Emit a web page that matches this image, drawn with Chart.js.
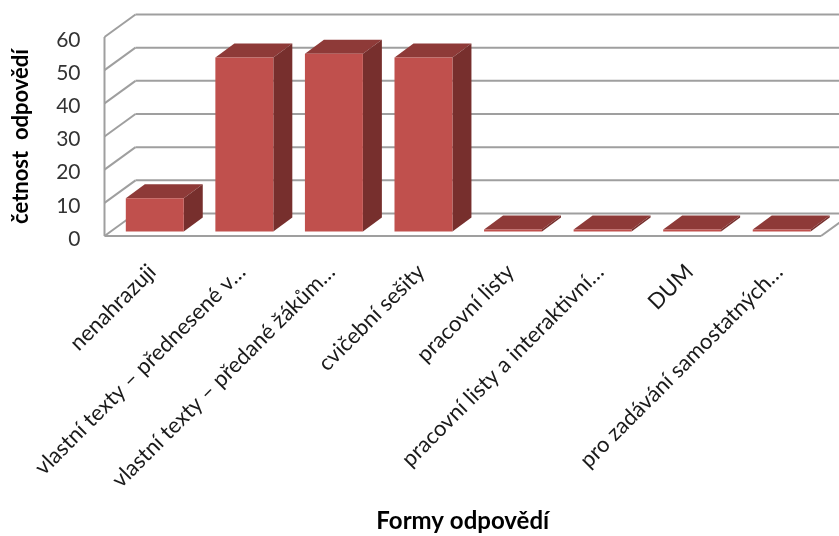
<!DOCTYPE html>
<html lang="cs">
<head>
<meta charset="utf-8">
<title>Formy odpovědí</title>
<script src="https://cdn.jsdelivr.net/npm/chart.js@4"></script>
<style>
  html, body { margin: 0; padding: 0; background: #fff; }
  #wrap { position: relative; width: 839px; height: 536px; overflow: hidden; }
  canvas { display: block; }
</style>
</head>
<body>
<div id="wrap"><canvas id="chart-formy" width="839" height="536"></canvas></div>
<script>
const CATEGORIES = [
  'nenahrazuji',
  'vlastní texty – přednesené v…',
  'vlastní texty – předané žákům…',
  'cvičební sešity',
  'pracovní listy',
  'pracovní listy a interaktivní…',
  'DUM',
  'pro zadávání samostatných…',
];
const COUNTS = [10, 52.5, 53.6, 52.5, 0, 0, 0, 0];
const Y_TICKS = [0, 10, 20, 30, 40, 50, 60];

const COLOR_FRONT = '#C0504D';
const COLOR_TOP   = '#8E3A38';
const COLOR_SIDE  = '#772F2D';
const COLOR_WALL  = '#9F9F9F';

// Depth of the fake 3D box, in px
const WALL_DX = 31,  WALL_DY = -22.5;
const BAR_IN_X = 5.5, BAR_IN_Y = -4.5;   // bars sit slightly behind the front plane
const BAR_DX = 19,   BAR_DY = -14;

function line(ctx, x1, y1, x2, y2) {
  ctx.beginPath();
  ctx.moveTo(x1, y1);
  ctx.lineTo(x2, y2);
  ctx.stroke();
}

function poly(ctx, pts, fill) {
  ctx.beginPath();
  pts.forEach(([x, y], i) => i ? ctx.lineTo(x, y) : ctx.moveTo(x, y));
  ctx.closePath();
  ctx.fillStyle = fill;
  ctx.fill();
}

const box3d = {
  id: 'box3d',

  // Back wall, side wall and floor
  beforeDatasetsDraw(chart) {
    const { ctx, chartArea, scales: { y } } = chart;
    const { left, right, bottom } = chartArea;
    ctx.save();
    ctx.strokeStyle = COLOR_WALL;
    ctx.lineWidth = 2;
    Y_TICKS.forEach(v => {
      const py = y.getPixelForValue(v);
      line(ctx, left, py, left + WALL_DX, py + WALL_DY);
      line(ctx, left + WALL_DX, py + WALL_DY, right + WALL_DX, py + WALL_DY);
    });
    line(ctx, left, y.getPixelForValue(60), left, bottom);
    line(ctx, left, bottom, right, bottom);
    line(ctx, right, bottom, right + WALL_DX, bottom + WALL_DY);
    ctx.restore();
  },

  // Top and side faces go in first, the library then paints the front face on the same offset
  beforeDatasetDraw(chart, args) {
    const { ctx } = chart;
    ctx.save();
    ctx.translate(BAR_IN_X, BAR_IN_Y);
    chart.getDatasetMeta(args.index).data.forEach(bar => {
      const l = bar.x - bar.width / 2;
      const r = bar.x + bar.width / 2;
      poly(ctx, [[l, bar.y], [l + BAR_DX, bar.y + BAR_DY], [r + BAR_DX, bar.y + BAR_DY], [r, bar.y]], COLOR_TOP);
      poly(ctx, [[r, bar.y], [r + BAR_DX, bar.y + BAR_DY], [r + BAR_DX, bar.base + BAR_DY], [r, bar.base]], COLOR_SIDE);
    });
  },

  afterDatasetDraw(chart) {
    chart.ctx.restore();
  },
};

new Chart(document.getElementById('chart-formy'), {
  type: 'bar',
  data: {
    labels: CATEGORIES,
    datasets: [{
      label: 'četnost odpovědí',
      data: COUNTS,
      backgroundColor: COLOR_FRONT,
      categoryPercentage: 1,
      barPercentage: 0.647,
      minBarLength: 2,
      clip: false,
    }],
  },
  plugins: [box3d],
  options: {
    responsive: false,
    animation: false,
    layout: { padding: { top: 37, right: 18, left: 0, bottom: 0 } },
    plugins: { legend: { display: false }, tooltip: { enabled: false } },
    scales: {
      x: {
        afterFit: s => { s.height = 300; },
        grid: { display: false },
        border: { display: false },
        title: {
          display: true,
          text: 'Formy odpovědí',
          color: '#000',
          font: { family: 'Lato', size: 24, weight: 'bold' },
          padding: { top: 0, bottom: 0 },
        },
        ticks: {
          autoSkip: false,
          minRotation: 45,
          maxRotation: 45,
          labelOffset: 3,
          padding: 15,
          color: '#1a1a1a',
          font: { family: 'Lato', size: 22 },
        },
      },
      y: {
        min: 0,
        max: 60,
        afterFit: s => { s.width = 104.5; },
        afterBuildTicks: s => { s.ticks = Y_TICKS.map(value => ({ value })); },
        grid: { display: false },
        border: { display: false },
        title: {
          display: true,
          text: 'četnost  odpovědí',
          color: '#000',
          font: { family: 'Lato', size: 22, weight: 'bold' },
          padding: { top: 8, bottom: 0 },
        },
        ticks: {
          labelOffset: 3,
          padding: 16,
          color: '#333',
          font: { family: 'Lato', size: 21 },
        },
      },
    },
  },
});
</script>
</body>
</html>
